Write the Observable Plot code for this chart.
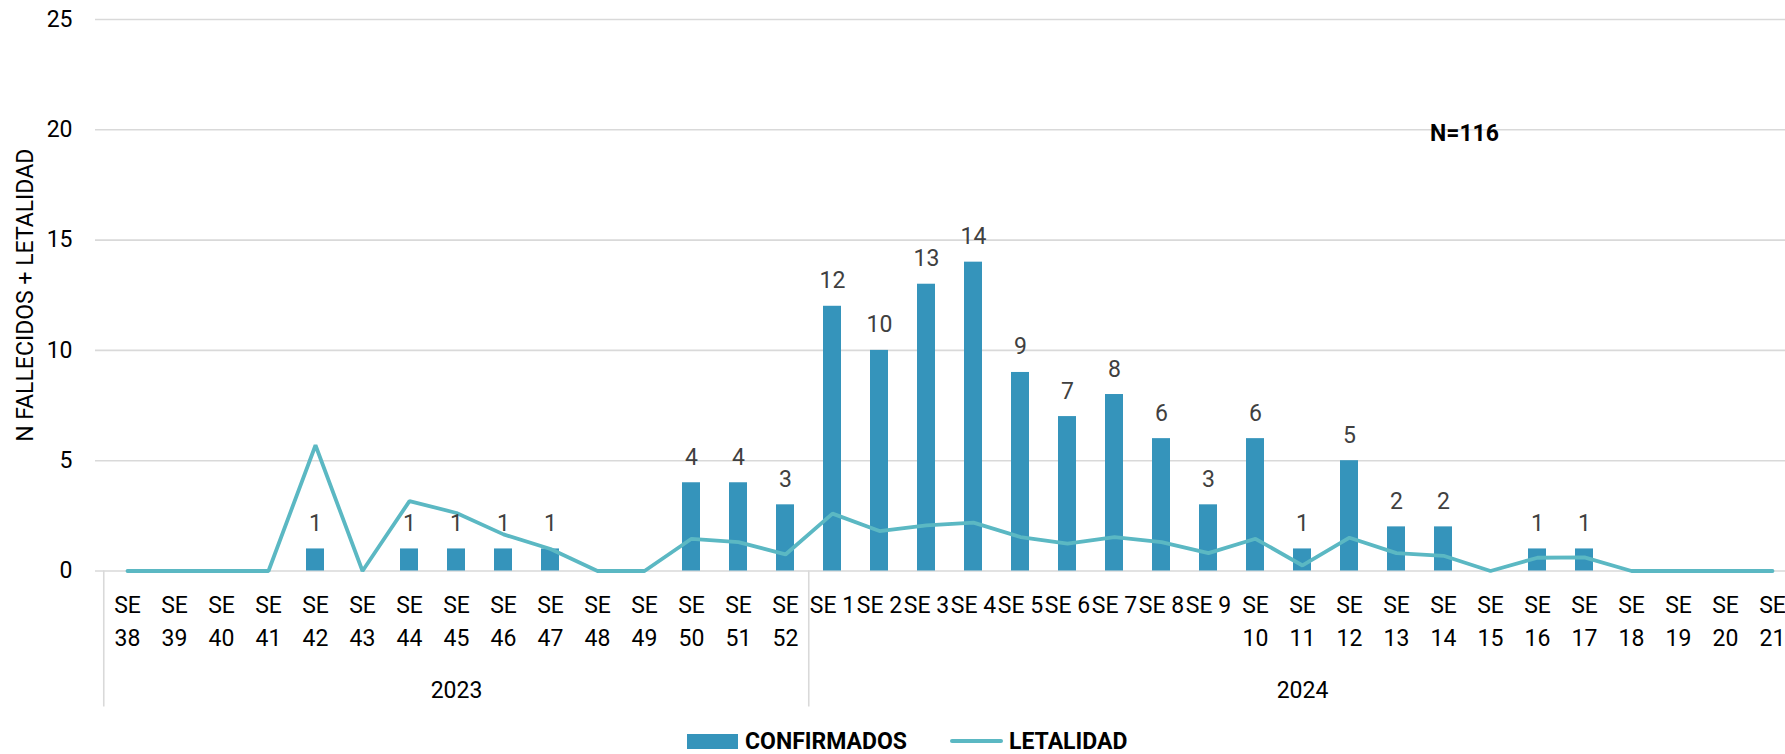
<!DOCTYPE html>
<html>
<head>
<meta charset="utf-8">
<script src="https://cdn.jsdelivr.net/npm/d3@7"></script>
<script src="https://cdn.jsdelivr.net/npm/@observablehq/plot@0.6"></script>
<style>
  html, body { margin: 0; padding: 0; background: #fff; }
  body { width: 1785px; height: 754px; overflow: hidden; font-family: Roboto, sans-serif; }
  #legend { position: relative; height: 26px; }
  #legend .item { position: absolute; display: flex; align-items: center; font-weight: bold; font-size: 23px; color: #000; top: 0; height: 26px; }
</style>
</head>
<body>
<div id="chart"></div>
<div id="legend"></div>
<script>
// ---- data ----
const years = [2023, 2024];
const weeks2023 = [38, 39, 40, 41, 42, 43, 44, 45, 46, 47, 48, 49, 50, 51, 52];
const weeks2024 = [1, 2, 3, 4, 5, 6, 7, 8, 9, 10, 11, 12, 13, 14, 15, 16, 17, 18, 19, 20, 21];
const confirmados2023 = [0, 0, 0, 0, 1, 0, 1, 1, 1, 1, 0, 0, 4, 4, 3];
const confirmados2024 = [12, 10, 13, 14, 9, 7, 8, 6, 3, 6, 1, 5, 2, 2, 0, 1, 1, 0, 0, 0, 0];
const letalidad2023 = [0, 0, 0, 0, 5.7, 0, 3.17, 2.63, 1.66, 1.0, 0, 0, 1.46, 1.31, 0.75];
const letalidad2024 = [2.6, 1.81, 2.07, 2.19, 1.54, 1.24, 1.54, 1.31, 0.81, 1.46, 0.25, 1.51, 0.81, 0.69, 0, 0.6, 0.62, 0, 0, 0, 0];
const yTicks = [0, 5, 10, 15, 20, 25];
const yTitle = "N FALLECIDOS + LETALIDAD";
const annotation = "N=116";
const seriesNames = ["CONFIRMADOS", "LETALIDAD"];

// ---- table ----
const rows = [];
[[2023, weeks2023, confirmados2023, letalidad2023], [2024, weeks2024, confirmados2024, letalidad2024]]
  .forEach(([year, weeks, conf, let_]) => {
    weeks.forEach((w, i) => rows.push({
      year, week: w, key: year + "-" + w,
      confirmados: conf[i], letalidad: let_[i],
      label: (year === 2024 && w < 10) ? "SE " + w : "SE\n" + w
    }));
  });
const keys = rows.map(d => d.key);
const groupStarts = years.map(y => rows.find(d => d.year === y));
const groupMids = years.map(y => {
  const g = rows.filter(d => d.year === y);
  return {key: g[Math.floor(g.length / 2)].key, year: String(y)};
});

const W = 1785, H = 728;
const mTop = 19, mBottom = H - 570.5, mLeft = 95;
const x0 = 94.6, step = 47.48;
const barColor = "#3594bb", lineColor = "#5bb8c3";

const chart = Plot.plot({
  width: W, height: H,
  marginLeft: mLeft, marginRight: 0, marginTop: mTop, marginBottom: mBottom,
  style: {fontFamily: "Roboto, sans-serif", background: "#fff", overflow: "hidden"},
  x: {type: "band", domain: keys, range: [x0, x0 + step * keys.length], paddingInner: 0.621, paddingOuter: 0.3105, axis: null},
  y: {domain: [0, 25], axis: null},
  marks: [
    Plot.ruleY(yTicks, {stroke: "#d9d9d9", strokeWidth: 1.6}),
    Plot.ruleX(groupStarts, {x: "key", dx: -step / 2, stroke: "#d9d9d9", strokeWidth: 1.6,
      insetTop: H - mTop - mBottom, insetBottom: -136}),
    Plot.barY(rows.filter(d => d.confirmados > 0), {x: "key", y: "confirmados", fill: barColor}),
    Plot.line(rows, {x: "key", y: "letalidad", stroke: lineColor, strokeWidth: 3.8, strokeLinejoin: "miter", strokeLinecap: "round"}),
    Plot.text(rows.filter(d => d.confirmados > 0), {x: "key", y: "confirmados", text: d => String(d.confirmados),
      dy: -18, lineAnchor: "bottom", fill: "#404040", fontSize: 23}),
    Plot.text(yTicks, {y: d => d, text: d => String(d), frameAnchor: "left", textAnchor: "end", dx: -23, fill: "#000", fontSize: 23}),
    Plot.text(rows, {x: "key", text: "label", frameAnchor: "bottom", lineAnchor: "top", lineHeight: 1.45, dy: 18, fill: "#000", fontSize: 23}),
    Plot.text(groupMids, {x: "key", text: "year", frameAnchor: "bottom", lineAnchor: "bottom", dy: 126.5, fill: "#000", fontSize: 23}),
    Plot.text([yTitle], {text: d => d, frameAnchor: "left", textAnchor: "middle", dx: -70, rotate: -90, fill: "#000", fontSize: 23}),
    Plot.text([annotation], {text: d => d, frameAnchor: "top-left", textAnchor: "middle", dx: 1369, dy: 105, fontWeight: "bold", fill: "#000", fontSize: 23})
  ]
});
document.getElementById("chart").appendChild(chart);

// ---- legend ----
const legend = document.getElementById("legend");
const it1 = document.createElement("div");
it1.className = "item"; it1.style.left = "687px";
it1.innerHTML = `<span style="display:inline-block;width:51px;height:15px;background:${barColor};margin-right:7px"></span>${seriesNames[0]}`;
const it2 = document.createElement("div");
it2.className = "item"; it2.style.left = "950px";
it2.innerHTML = `<span style="display:inline-block;width:53px;height:4px;border-radius:2px;background:${lineColor};margin-right:6px"></span>${seriesNames[1]}`;
legend.appendChild(it1); legend.appendChild(it2);
</script>
</body>
</html>
